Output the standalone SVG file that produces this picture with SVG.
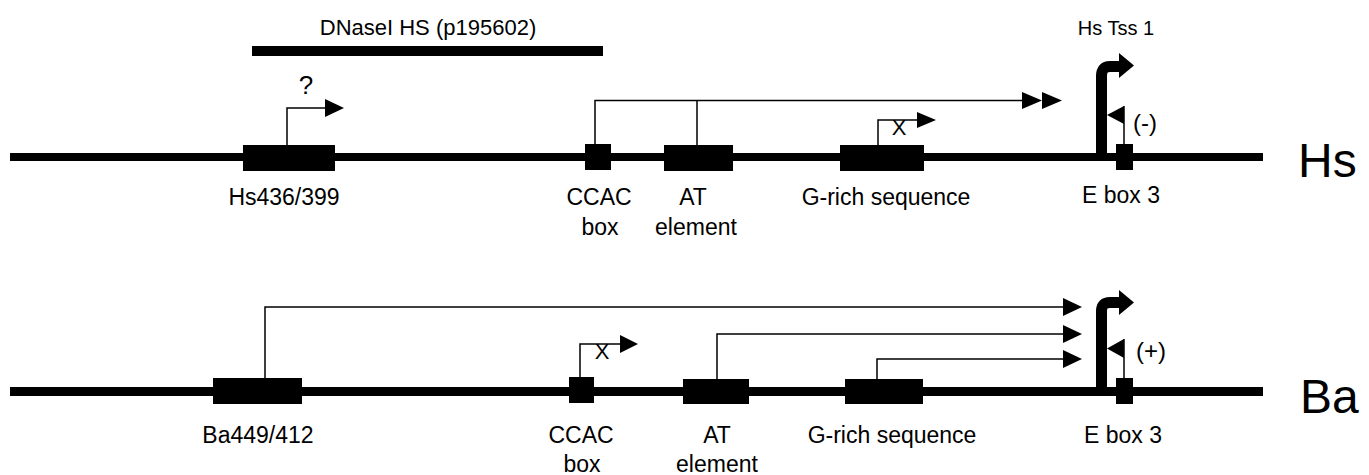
<svg xmlns="http://www.w3.org/2000/svg" width="1369" height="475" viewBox="0 0 1369 475">
<style>
text{font-family:"Liberation Sans",Arial,sans-serif;fill:#000;text-anchor:middle}
.lbl{font-size:23px}
.big{font-size:48px;text-anchor:start}
.thin{fill:none;stroke:#000;stroke-width:1.5}
.tss{fill:none;stroke:#000;stroke-width:11}
.blk{fill:#000}
.x{font-size:22px}
</style>
<rect width="1369" height="475" fill="#fff"/>
<g id="dnase">
<rect class="blk" x="252" y="46" width="351" height="10"/>
<text x="428" y="35" style="font-size:22px">DNaseI HS (p195602)</text>
</g>
<g id="hs-track">
<rect class="blk" x="10" y="153" width="1253" height="8"/>
<text class="big" x="1298" y="177">Hs</text>
</g>
<g id="ba-track">
<rect class="blk" x="10" y="387" width="1253" height="9"/>
<text class="big" x="1300" y="413">Ba</text>
</g>
<g id="hs436">
<rect class="blk" x="243" y="145" width="92" height="26"/>
<text class="lbl" x="284" y="205">Hs436/399</text>
</g>
<g id="hs-ccac">
<rect class="blk" x="585" y="144" width="26" height="26"/>
<text class="lbl" x="599" y="205">CCAC</text>
<text class="lbl" x="600" y="235">box</text>
</g>
<g id="hs-at">
<rect class="blk" x="664" y="145" width="69" height="26"/>
<text class="lbl" x="693" y="205">AT</text>
<text class="lbl" x="696" y="235">element</text>
</g>
<g id="hs-grich">
<rect class="blk" x="840" y="145" width="84" height="26"/>
<text class="lbl" x="886" y="205">G-rich sequence</text>
</g>
<g id="hs-ebox3">
<rect class="blk" x="1116" y="144" width="17" height="26"/>
<text class="lbl" x="1121" y="203">E box 3</text>
</g>
<g id="hs-tss">
<text x="1116" y="35" style="font-size:20px">Hs Tss 1</text>
</g>
<g id="ba449">
<rect class="blk" x="213" y="378" width="89" height="26"/>
<text class="lbl" x="258" y="443">Ba449/412</text>
</g>
<g id="ba-ccac">
<rect class="blk" x="569" y="377" width="25" height="26"/>
<text class="lbl" x="581" y="443">CCAC</text>
<text class="lbl" x="582" y="472">box</text>
</g>
<g id="ba-at">
<rect class="blk" x="683" y="379" width="66" height="25"/>
<text class="lbl" x="717" y="443">AT</text>
<text class="lbl" x="717" y="472">element</text>
</g>
<g id="ba-grich">
<rect class="blk" x="845" y="379" width="78" height="25"/>
<text class="lbl" x="892" y="443">G-rich sequence</text>
</g>
<g id="ba-ebox3">
<rect class="blk" x="1116" y="378" width="17" height="26"/>
<text class="lbl" x="1123" y="443">E box 3</text>
</g>
<g id="connectors">
<path class="thin" d="M287,145 V108 H327"/>
<polygon class="blk" points="325,99 344,108 325,117"/>
<text x="306" y="94" style="font-size:26px">?</text>
<path class="thin" d="M595,144 V100.5 H1024 M697,145 V100.5"/>
<polygon class="blk" points="1022,92 1042,100.5 1022,109"/>
<polygon class="blk" points="1042,92 1062,100.5 1042,109"/>
<path class="thin" d="M878,145 V120 H919"/>
<polygon class="blk" points="917,112 936,120 917,128"/>
<text class="x" x="899" y="135">X</text>
<path class="tss" d="M1101.5,157 V76 Q1101.5,66.5 1110,66.5 H1122"/>
<polygon class="blk" points="1119,53 1134,65.5 1119,78"/>
<path class="thin" d="M1124,144 V106"/>
<polygon class="blk" points="1124,106 1107,115 1124,124"/>
<text x="1145" y="131" style="font-size:24px">(-)</text>
<path class="thin" d="M265,378 V307 H1065"/>
<polygon class="blk" points="1063,298 1082,307 1063,316"/>
<path class="thin" d="M717,379 V334 H1065"/>
<polygon class="blk" points="1063,325 1082,334 1063,343"/>
<path class="thin" d="M877,379 V359 H1065"/>
<polygon class="blk" points="1063,350 1082,359 1063,368"/>
<path class="thin" d="M580,377 V344 H622"/>
<polygon class="blk" points="620,335 638,344 620,353"/>
<text class="x" x="602" y="359">X</text>
<path class="tss" d="M1101.5,391 V311 Q1101.5,302.5 1110,302.5 H1122"/>
<polygon class="blk" points="1119,290 1134,302.5 1119,315"/>
<path class="thin" d="M1124,378 V339"/>
<polygon class="blk" points="1124,339 1107,348.5 1124,358"/>
<text x="1151" y="359" style="font-size:24px">(+)</text>
</g>
</svg>
